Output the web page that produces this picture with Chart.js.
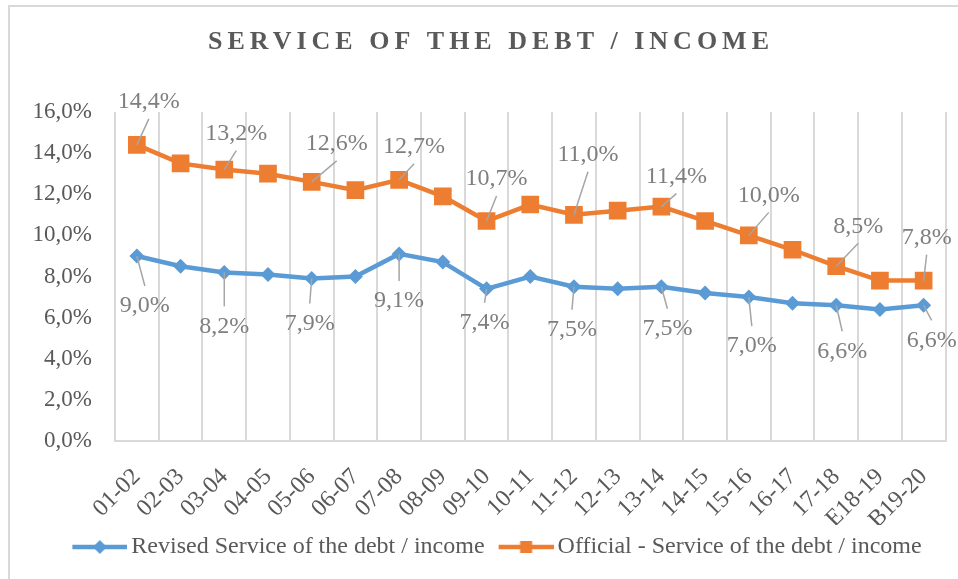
<!DOCTYPE html>
<html>
<head>
<meta charset="utf-8">
<title>Service of the debt / income</title>
<script src="https://cdn.jsdelivr.net/npm/chart.js"></script>
<style>
  html, body { margin: 0; padding: 0; background: #fff; overflow: hidden; }
  #frame { position: absolute; left: 8px; top: 5px; width: 1200px; height: 800px;
           border-left: 2px solid #d9d9d9; border-top: 2px solid #d9d9d9; }
  #chart { position: absolute; left: 0; top: 0; }
</style>
</head>
<body>
<div id="frame"></div>
<canvas id="chart" width="958" height="579"></canvas>
<script>
const chartTitle = 'SERVICE OF THE DEBT / INCOME';
const periods = ['01-02', '02-03', '03-04', '04-05', '05-06', '06-07', '07-08', '08-09', '09-10', '10-11',
                 '11-12', '12-13', '13-14', '14-15', '15-16', '16-17', '17-18', 'E18-19', 'B19-20'];
const seriesNames = ['Revised Service of the debt / income', 'Official - Service of the debt / income'];
const revised = [9.0, 8.5, 8.2, 8.1, 7.9, 8.0, 9.1, 8.7, 7.4, 8.0, 7.5, 7.4, 7.5, 7.2, 7.0, 6.7, 6.6, 6.4, 6.6];
const official = [14.4, 13.5, 13.2, 13.0, 12.6, 12.2, 12.7, 11.9, 10.7, 11.5, 11.0, 11.2, 11.4, 10.7, 10.0, 9.3, 8.5, 7.8, 7.8];
const yMin = 0, yMax = 16, yStep = 2;

// where each value label sits relative to its point (null = no label)
const revisedLabelShift = [[8, 50], null, [0, 54], null, [-2, 45], null, [0, 47], null, [-2, 34], null,
                           [-2, 43], null, [6, 42], null, [3, 49], null, [6, 46], null, [8, 35]];
const officialLabelShift = [[12, -43], null, [12, -36], null, [25, -38], null, [15, -33], null, [10, -42], null,
                            [14, -60], null, [15, -30], null, [20, -40], null, [22, -40], null, [3, -43]];
const labelShift = [revisedLabelShift, officialLabelShift];

const BLUE = '#5b9bd5';
const ORANGE = '#ed7d31';
const SERIF = '"Liberation Serif", "Times New Roman", serif';

function pct(v) {
    return Number(v).toFixed(1).replace('.', ',') + '%';
}

// line + marker swatch for the legend
function legendIcon(color, shape) {
    const c = document.createElement('canvas');
    c.width = 67;
    c.height = 20;
    const g = c.getContext('2d');
    g.strokeStyle = color;
    g.lineWidth = 4.5;
    g.beginPath();
    g.moveTo(12, 10);
    g.lineTo(67, 10);
    g.stroke();
    g.fillStyle = color;
    const cx = 39.5;
    g.beginPath();
    if (shape === 'diamond') {
        g.moveTo(cx, 3);
        g.lineTo(cx + 7, 10);
        g.lineTo(cx, 17);
        g.lineTo(cx - 7, 10);
        g.closePath();
    } else {
        g.rect(cx - 6, 4, 12, 12);
    }
    g.fill();
    return c;
}
const legendIcons = [legendIcon(BLUE, 'diamond'), legendIcon(ORANGE, 'square')];

const spacedTitle = {
    id: 'spacedTitle',
    afterDraw: function (chart) {
        const ctx = chart.ctx;
        ctx.save();
        ctx.font = 'bold 26px ' + SERIF;
        ctx.letterSpacing = '5px';
        ctx.fillStyle = '#595959';
        ctx.textAlign = 'center';
        ctx.textBaseline = 'middle';
        ctx.fillText(chartTitle, chart.width / 2 + 12, 42);
        ctx.restore();
    }
};

// nudge the legend row a little to the right of centre
const legendNudge = {
    id: 'legendNudge',
    afterLayout: function (chart) {
        chart.legend.left += 22;
        chart.legend.right += 22;
    }
};

// value labels with leader lines
const pointLabels = {
    id: 'pointLabels',
    afterDatasetsDraw: function (chart) {
        const ctx = chart.ctx;
        ctx.save();
        ctx.font = '24px ' + SERIF;
        ctx.textAlign = 'center';
        ctx.textBaseline = 'middle';
        chart.data.datasets.forEach(function (ds, d) {
            const shifts = labelShift[d];
            chart.getDatasetMeta(d).data.forEach(function (pt, i) {
                const s = shifts[i];
                if (!s) return;
                const lx = pt.x + s[0];
                const ly = pt.y + s[1];
                const ey = s[1] < 0 ? ly + 17 : ly - 20;
                ctx.strokeStyle = '#a6a6a6';
                ctx.lineWidth = 1.5;
                ctx.beginPath();
                ctx.moveTo(pt.x, pt.y);
                ctx.lineTo(lx, ey);
                ctx.stroke();
                ctx.fillStyle = '#7f7f7f';
                ctx.fillText(pct(ds.data[i]), lx, ly);
            });
        });
        ctx.restore();
    }
};

const chart = new Chart(document.getElementById('chart'), {
    type: 'line',
    data: {
        labels: periods,
        datasets: [{
            label: seriesNames[0],
            data: revised,
            borderColor: BLUE,
            backgroundColor: BLUE,
            borderWidth: 4.5,
            pointStyle: 'rectRot',
            pointRadius: 7.5,
            pointBorderWidth: 0,
            tension: 0
        }, {
            label: seriesNames[1],
            data: official,
            borderColor: ORANGE,
            backgroundColor: ORANGE,
            borderWidth: 4.5,
            pointStyle: 'rect',
            pointRadius: 12.5,
            pointBorderWidth: 0,
            tension: 0
        }]
    },
    options: {
        responsive: false,
        animation: false,
        devicePixelRatio: 1,
        layout: { padding: { top: 112, left: 0, right: 12, bottom: 10 } },
        plugins: {
            title: { display: false },
            tooltip: { enabled: false },
            legend: {
                position: 'bottom',
                labels: {
                    usePointStyle: true,
                    pointStyleWidth: 51,
                    padding: 10,
                    color: '#595959',
                    font: { family: SERIF, size: 24 },
                    generateLabels: function (chart) {
                        const items = Chart.defaults.plugins.legend.labels.generateLabels(chart);
                        items.forEach(function (item, i) { item.pointStyle = legendIcons[i]; });
                        return items;
                    }
                }
            }
        },
        scales: {
            x: {
                offset: true,
                grid: { offset: true, color: '#d9d9d9', lineWidth: 2, drawTicks: false },
                border: { color: '#d9d9d9', width: 2 },
                ticks: {
                    autoSkip: false,
                    minRotation: 45,
                    maxRotation: 45,
                    padding: 22,
                    color: '#595959',
                    font: { family: SERIF, size: 24 }
                },
                afterFit: function (scale) {
                    scale.height = 84;
                    scale.paddingLeft = 0;
                    scale.paddingRight = 0;
                }
            },
            y: {
                min: yMin,
                max: yMax,
                grid: { display: false, drawTicks: false },
                border: { display: false },
                ticks: {
                    stepSize: yStep,
                    padding: 23,
                    color: '#595959',
                    font: { family: SERIF, size: 23 },
                    callback: function (v) { return pct(v); }
                },
                afterFit: function (scale) { scale.width = 115; }
            }
        }
    },
    plugins: [spacedTitle, legendNudge, pointLabels]
});
</script>
</body>
</html>
